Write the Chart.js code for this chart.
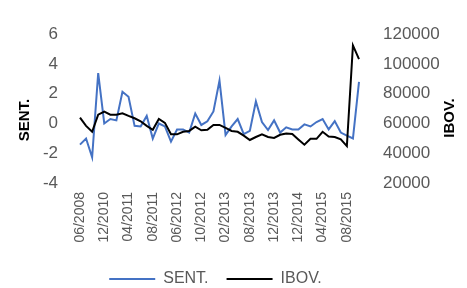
<!DOCTYPE html>
<html>
<head>
<meta charset="utf-8">
<script src="https://cdn.jsdelivr.net/npm/chart.js@4/dist/chart.umd.min.js"></script>
<style>
  html, body { margin: 0; padding: 0; background: #fff; }
  #wrap { width: 467px; height: 288px; }
</style>
</head>
<body>
<div id="wrap"><canvas id="sentChart"></canvas></div>
<script>
// shown date labels, one every 4 months of data
var tickLabels = ["06/2008", "12/2010", "04/2011", "08/2011", "06/2012", "10/2012",
  "02/2013", "08/2013", "12/2013", "12/2014", "04/2015", "08/2015"];

// SENT. index (left axis)
var sentValues = [-1.42, -1.01, -2.27, 3.39, 0.0, 0.3, 0.21, 2.13, 1.79, -0.16,
  -0.2, 0.51, -1.01, 0.0, -0.2, -1.22, -0.4, -0.4, -0.61, 0.67,
  -0.1, 0.15, 0.81, 2.88, -0.77, -0.2, 0.3, -0.71, -0.5, 1.48,
  0.1, -0.44, 0.21, -0.61, -0.26, -0.4, -0.4, -0.06, -0.2, 0.1,
  0.3, -0.4, 0.16, -0.61, -0.81, -1.01, 2.8];

// IBOV. index points (right axis)
var ibovValues = [63900, 58400, 54400, 65900, 67900, 65900, 65900, 66900, 65100, 63500,
  61500, 58400, 55800, 63000, 60400, 52700, 52700, 54400, 55000, 57800,
  55400, 55800, 59000, 59000, 57000, 55000, 54400, 51800, 48900, 50900,
  52700, 50900, 50300, 52400, 53300, 53000, 49300, 45700, 49700, 49700,
  54400, 51300, 50900, 49300, 44800, 112500, 103300];

var seriesNames = ["SENT.", "IBOV."];

// one category per data point, label only every 4th
var categories = [];
for (var i = 0; i < sentValues.length; i++) {
  categories.push(i % 4 == 0 ? tickLabels[i / 4] || "" : "");
}

Chart.defaults.font.family = '"Liberation Sans", Arial, sans-serif';
Chart.defaults.color = "#595959";

// axis titles are drawn rotated the same way on both sides,
// legend is pulled a bit to the left like in the original
var axisTitles = {
  id: "axisTitles",
  afterLayout: function (chart) {
    chart.legend.right -= 36;
  },
  afterDraw: function (chart) {
    var ctx = chart.ctx;
    var items = [[seriesNames[0], 25, 120], [seriesNames[1], 450, 118]];
    ctx.save();
    ctx.font = 'bold 15px "Liberation Sans", Arial, sans-serif';
    ctx.fillStyle = "#000";
    ctx.textAlign = "center";
    ctx.textBaseline = "middle";
    items.forEach(function (t) {
      ctx.save();
      ctx.translate(t[1], t[2]);
      ctx.rotate(-Math.PI / 2);
      ctx.fillText(t[0], 0, 0);
      ctx.restore();
    });
    ctx.restore();
  },
};

var ctx = document.getElementById("sentChart").getContext("2d");
var myChart = new Chart(ctx, {
  type: "line",
  data: {
    labels: categories,
    datasets: [
      {
        label: seriesNames[0],
        data: sentValues,
        yAxisID: "y",
        borderColor: "#4472C4",
        backgroundColor: "#4472C4",
        borderWidth: 2,
        pointRadius: 0,
        tension: 0,
        order: 1, // blue under black
      },
      {
        label: seriesNames[1],
        data: ibovValues,
        yAxisID: "y1",
        borderColor: "#000000",
        backgroundColor: "#000000",
        borderWidth: 2,
        pointRadius: 0,
        tension: 0,
        order: 0,
      },
    ],
  },
  plugins: [axisTitles],
  options: {
    responsive: true,
    maintainAspectRatio: false,
    animation: false,
    layout: { padding: { top: 17, left: 0, right: 0, bottom: -9 } },
    plugins: {
      tooltip: { enabled: false },
      legend: {
        position: "bottom",
        labels: {
          usePointStyle: true,
          pointStyle: "line",
          pointStyleWidth: 46,
          padding: 18,
          color: "#595959",
          font: { size: 16 },
          sort: function (a, b) {
            return a.datasetIndex - b.datasetIndex;
          },
        },
      },
    },
    scales: {
      x: {
        grid: { display: false, drawTicks: false },
        border: { display: false },
        ticks: {
          autoSkip: false,
          minRotation: 90,
          maxRotation: 90,
          padding: 9,
          font: { size: 14 },
        },
        afterFit: function (scale) {
          scale.height = 70;
        },
      },
      y: {
        position: "left",
        min: -4,
        max: 6,
        grid: { display: false, drawTicks: false },
        border: { display: false },
        ticks: { stepSize: 2, padding: 22, font: { size: 17 } },
        afterFit: function (scale) {
          scale.width = 80;
        },
      },
      y1: {
        position: "right",
        min: 20000,
        max: 120000,
        grid: { display: false, drawTicks: false },
        border: { display: false },
        ticks: {
          stepSize: 20000,
          padding: 24,
          font: { size: 17 },
          callback: function (v) {
            return String(v); // no thousands separator
          },
        },
        afterFit: function (scale) {
          scale.width = 108;
        },
      },
    },
  },
});
</script>
</body>
</html>
